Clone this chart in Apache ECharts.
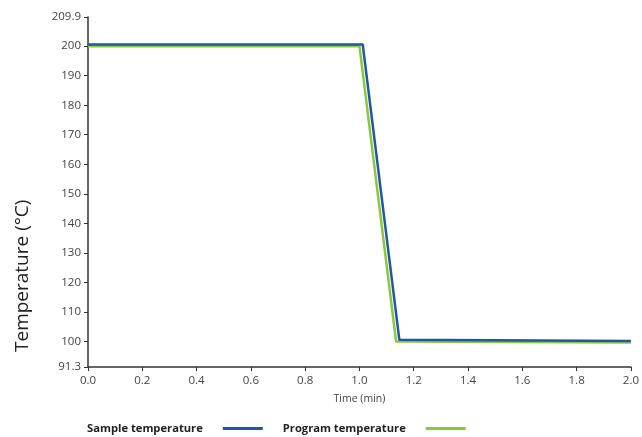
<!DOCTYPE html>
<html>
<head>
<meta charset="utf-8">
<script src="https://cdn.jsdelivr.net/npm/echarts@6/dist/echarts.min.js"></script>
<style>
html,body{margin:0;padding:0;background:#fff;}
#c{width:642px;height:437px;}
</style>
</head>
<body>
<div id="c"></div>
<script>
// Data
var sampleTime = [0.0, 1.012, 1.147, 2.0];
var sampleTemp = [200.6, 200.6, 100.5, 100.1];
var programTime = [0.0, 1.0, 1.135, 2.0];
var programTemp = [200.0, 200.0, 99.9, 99.6];
var yTicks = [91.3, 100, 110, 120, 130, 140, 150, 160, 170, 180, 190, 200, 209.9];
var seriesNames = ['Sample temperature', 'Program temperature'];
var colors = ['#1f57a4', '#8cc63f'];

function pairs(xs, ys){ return xs.map(function(x,i){ return [x, ys[i]]; }); }

var FONT = '"Open Sans", "Noto Sans", sans-serif';
var chart = echarts.init(document.getElementById('c'), null, {renderer:'canvas'});
chart.setOption({
  animation: false,
  backgroundColor: '#fff',
  grid: {left: 88, right: 10, top: 17, bottom: 70, containLabel: false},
  xAxis: {
    type: 'value', min: 0, max: 2.0, interval: 0.2,
    name: 'Time (min)', nameLocation: 'middle', nameGap: 27,
    nameTextStyle: {fontFamily: FONT, fontSize: 10.5, color: '#444'},
    axisLine: {show: true, lineStyle: {color: '#333', width: 1.5}},
    axisTick: {show: true, length: 4, lineStyle: {color: '#333'}},
    axisLabel: {fontFamily: FONT, fontSize: 11.5, color: '#444', margin: 8,
      formatter: function(v){ return v.toFixed(1); }},
    splitLine: {show: false}
  },
  yAxis: {
    type: 'value', min: 91.3, max: 209.9,
    axisLine: {show: true, lineStyle: {color: '#333', width: 1.5}},
    axisTick: {show: true, length: 4, lineStyle: {color: '#333'}, customValues: yTicks},
    axisLabel: {fontFamily: FONT, fontSize: 11.5, color: '#444', margin: 7, customValues: yTicks,
      formatter: function(v){ return String(v); }},
    splitLine: {show: false}
  },
  legend: {
    left: 82, top: 418,
    align: 'right',
    itemWidth: 40, itemHeight: 3, itemGap: 20,
    icon: 'rect',
    textStyle: {fontFamily: FONT, fontSize: 11.2, fontWeight: 'bold', color: '#222', padding: [0, 15, 0, 0]},
    data: seriesNames
  },
  graphic: [{
    type: 'text', rotation: Math.PI/2,
    style: {text: 'Temperature (°C)', fontFamily: FONT, fontSize: 19, fill: '#222'},
    x: 13, y: 352
  }],
  series: [
    {name: seriesNames[0], type: 'line', data: pairs(sampleTime, sampleTemp), symbol: 'none',
     lineStyle: {color: colors[0], width: 2.5}, itemStyle: {color: colors[0]}, z: 3},
    {name: seriesNames[1], type: 'line', data: pairs(programTime, programTemp), symbol: 'none',
     lineStyle: {color: colors[1], width: 2.5}, itemStyle: {color: colors[1]}, z: 2}
  ]
});
</script>
</body>
</html>
